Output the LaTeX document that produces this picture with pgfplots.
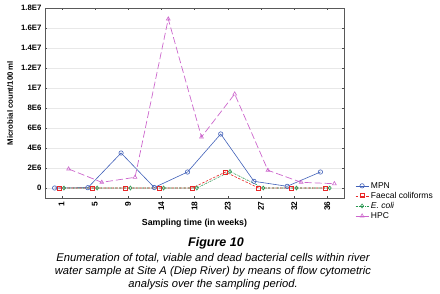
\documentclass[border=0pt]{standalone}
\usepackage{pgfplots}
\usepackage{pgfplotstable}
\pgfplotsset{compat=1.18}
\usepackage{fontspec}
\setmainfont{Liberation Sans}
\definecolor{mpn}{RGB}{64,96,184}
\definecolor{fc}{RGB}{232,40,40}
\definecolor{ec}{RGB}{40,150,80}
\definecolor{hpc}{RGB}{204,102,204}
\pgfplotstableread{
wk  mpn     fc      ec      hpc
1   0       0       0       1.9e6
5   0.03e6  0       0       0.57e6
9   3.5e6   0       0       1.07e6
14  0.05e6  0       0       16.9e6
18  1.6e6   0       0       5.1e6
23  5.4e6   1.6e6   1.65e6  9.4e6
27  0.67e6  0       0       1.77e6
32  0.17e6  0       0       0.57e6
36  1.6e6   0       0       0.43e6
}\data
\begin{document}
\begin{tikzpicture}
\useasboundingbox (0,0) rectangle (440pt,293pt);
\begin{axis}[
  at={(45pt,95pt)}, anchor=south west,
  scale only axis, width=299pt, height=190pt,
  xmin=-0.5, xmax=8.5, ymin=-1.0e6, ymax=1.8e7,
  xtick={0,...,8},
  xticklabels={1,5,9,14,18,23,27,32,36},
  x tick label style={rotate=90, anchor=east, font=\fontsize{8.3}{9}\selectfont\bfseries},
  ytick={0,2e6,4e6,6e6,8e6,1e7,1.2e7,1.4e7,1.6e7,1.8e7},
  yticklabels={0,2E6,4E6,6E6,8E6,1E7,1.2E7,1.4E7,1.6E7,1.8E7},
  y tick label style={font=\fontsize{7.8}{9}\selectfont\bfseries},
  scaled y ticks=false,
  tick align=inside,
  major tick length=2pt,
  ymajorgrids, grid style={gray!18, line width=0.4pt},
  axis line style={gray!70!black, line width=0.6pt},
  tick style={gray!60!black},
  xlabel={Sampling time (in weeks)},
  ylabel={Microbial count/100 ml},
  xlabel style={at={(axis description cs:0.5,-0.132)}, anchor=center, font=\fontsize{8.8}{10}\selectfont\bfseries},
  ylabel style={at={(axis description cs:-0.117,0.5)}, anchor=center, font=\fontsize{7.8}{9}\selectfont\bfseries},
  legend style={at={(axis description cs:1.037,0.095)}, anchor=north west, draw=none, fill=none,
    font=\fontsize{8.5}{9}\selectfont, row sep=-1.5pt, inner sep=0pt,
    /tikz/every even column/.append style={column sep=2pt}},
  legend cell align=left,
  legend image code/.code={\draw[#1] (0pt,0pt) -- (6.5pt,0pt) plot coordinates {(6.5pt,0pt)} -- (13pt,0pt);},
  clip=false,
]
\addplot[mpn, line width=0.6pt, mark=o, mark size=2.2pt, mark options={solid, line width=0.6pt}]
  table[x expr=\coordindex-0.21, y=mpn] {\data};
\addlegendentry{MPN}
\addplot[fc, line width=0.6pt, dash pattern=on 2.5pt off 1.5pt, mark=square, mark size=2pt, mark options={solid, line width=0.7pt}]
  table[x expr=\coordindex-0.07, y=fc] {\data};
\addlegendentry{Faecal coliforms}
\addplot[ec, line width=0.6pt, dash pattern=on 2pt off 1pt on 0.6pt off 1pt, mark=diamond, mark size=2pt, mark options={solid, line width=0.6pt}]
  table[x expr=\coordindex+0.07, y=ec] {\data};
\addlegendentry{\itshape E. coli}
\addplot[hpc, line width=0.7pt, dash pattern=on 7pt off 3pt, mark=triangle, mark size=2.2pt, mark options={solid, line width=0.6pt}]
  table[x expr=\coordindex+0.21, y=hpc] {\data};
\addlegendentry{HPC}
\end{axis}
\node[font=\fontsize{12.5}{14}\selectfont\bfseries\itshape] at (216pt,50pt) {Figure 10};
\node[font=\fontsize{11.2}{13}\selectfont\itshape, align=center, anchor=north] at (213pt,43pt)
  {Enumeration of total, viable and dead bacterial cells within river\\
   water sample at Site A (Diep River) by means of flow cytometric\\
   analysis over the sampling period.};
\end{tikzpicture}
\end{document}
